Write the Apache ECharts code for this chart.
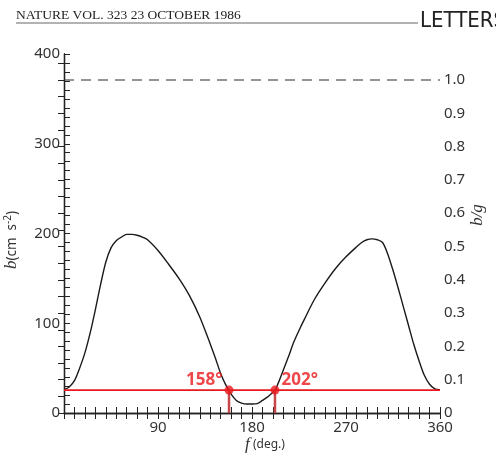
<!DOCTYPE html>
<html lang="en">
<head>
    <meta charset="UTF-8">
    <title>b vs f</title>
    <style>
        html, body { margin: 0; padding: 0; background: #fff; }
        #chart { width: 496px; height: 457px; }
    </style>
</head>
<body>
    <div id="chart"></div>
<script src="https://cdn.jsdelivr.net/npm/echarts@6/dist/echarts.min.js"></script>
<script>
    // curve: f in degrees, b in cm s^-2
    var fDeg = [0, 5, 10, 15, 20, 25, 30, 35, 40, 45, 50, 55, 60, 65, 70, 75, 80, 90,
        100, 110, 120, 130, 140, 145, 150, 155, 158, 160, 165, 170, 175, 180, 185, 190,
        195, 202, 205, 210, 215, 220, 225, 230, 240, 250, 260, 270, 280, 285, 290, 295,
        300, 305, 310, 315, 320, 325, 330, 335, 340, 345, 350, 355, 360];
    var bVal = [26, 29, 36, 50, 67, 89, 115, 143, 168, 184, 192, 196, 199, 199, 198, 196, 193, 181,
        166, 150, 131, 107, 77, 61, 44, 31, 25.5, 21, 14, 11, 10, 10, 10.5, 14,
        18, 25.5, 33, 48, 63, 79, 92, 104, 127, 145, 161, 174, 185, 190, 193, 194,
        193, 190, 177, 159, 139, 118, 97, 76, 58, 42, 32, 27, 26];

    var threshold = 25.5;          // red horizontal line
    var crossAngles = [158, 202];  // where the curve meets it
    var gRef = 371;                // b at which b/g = 1.0 (dashed line)
    var xLabels = [90, 180, 270, 360];
    var leftLabels = [0, 100, 200, 300, 400];
    var rightLabels = ['0', '0.1', '0.2', '0.3', '0.4', '0.5', '0.6', '0.7', '0.8', '0.9', '1.0'];

    var labelFont = 'Noto Sans, sans-serif';
    var ink = '#222';

    var curve = fDeg.map(function (f, i) { return [f, bVal[i]]; });

    var chart = echarts.init(document.getElementById('chart'));

    var axisLine = { show: true, lineStyle: { color: ink, width: 1.3 } };
    // negative length turns the ticks into the plot
    var tick = { show: true, length: -6, lineStyle: { color: ink, width: 1 } };

    function near(v, step) {
        var k = Math.round(v / step);
        return Math.abs(v - k * step) < 1e-6;
    }

    var option = {
        animation: false,
        backgroundColor: '#fff',
        grid: { left: 64, right: 56, top: 54, bottom: 44 },
        xAxis: [
            {
                type: 'value', min: 0, max: 360, interval: 10,
                axisLine: axisLine, axisTick: tick,
                splitLine: { show: false },
                axisLabel: {
                    margin: 7, fontSize: 15, color: '#333', fontFamily: labelFont,
                    formatter: function (v) { return xLabels.indexOf(v) >= 0 ? String(v) : ''; }
                }
            },
            {
                type: 'value', position: 'top', min: 0, max: 360, interval: 10,
                axisLine: axisLine, axisTick: tick,
                splitLine: { show: false },
                axisLabel: { show: false }
            }
        ],
        yAxis: [
            {
                type: 'value', min: 0, max: 400, interval: 10,
                axisLine: axisLine, axisTick: tick,
                splitLine: { show: false },
                axisLabel: {
                    margin: 4, fontSize: 15, color: '#333', fontFamily: labelFont,
                    formatter: function (v) { return leftLabels.indexOf(v) >= 0 ? String(v) : ''; }
                }
            },
            {
                type: 'value', position: 'right', min: 0, max: 400 / gRef, interval: 0.05,
                axisLine: axisLine, axisTick: tick,
                splitLine: { show: false },
                axisLabel: {
                    margin: 4, fontSize: 15, color: '#333', fontFamily: labelFont,
                    showMaxLabel: false,
                    formatter: function (v) {
                        if (!near(v, 0.1)) return '';
                        var k = Math.round(v * 10);
                        return k < rightLabels.length ? rightLabels[k] : '';
                    }
                }
            }
        ],
        series: [
            {
                type: 'line', data: curve, smooth: 0.3, showSymbol: false,
                lineStyle: { color: '#1a1a1a', width: 1.4 }, z: 3
            },
            {
                // dashed b/g = 1 line
                type: 'line', yAxisIndex: 1, data: [[0, 1], [360, 1]], showSymbol: false,
                lineStyle: { color: '#2a2a2a', width: 1.1, type: [10, 7] }
            },
            {
                type: 'line', data: [[0, threshold], [360, threshold]], showSymbol: false,
                lineStyle: { color: '#e8191c', width: 1.6 }, z: 4
            },
            {
                type: 'line', data: [[crossAngles[0], 0], [crossAngles[0], threshold]], showSymbol: false,
                lineStyle: { color: '#c8474a', width: 2.5 }, z: 4
            },
            {
                type: 'line', data: [[crossAngles[1], 0], [crossAngles[1], threshold]], showSymbol: false,
                lineStyle: { color: '#c8474a', width: 2.5 }, z: 4
            },
            {
                type: 'scatter', symbolSize: 9, z: 5,
                itemStyle: { color: '#e8191c' },
                data: crossAngles.map(function (a, i) {
                    return {
                        value: [a, threshold],
                        label: {
                            show: true,
                            formatter: a + '°',
                            position: i === 0 ? 'left' : 'right',
                            distance: 2,
                            offset: [0, -10],
                            color: '#e8191c',
                            fontSize: 17,
                            fontWeight: 'bold',
                            fontFamily: 'Open Sans, sans-serif'
                        }
                    };
                })
            }
        ],
        graphic: [
            {
                type: 'text', left: 16, top: 8,
                style: { text: 'NATURE VOL. 323 23 OCTOBER 1986', fontSize: 13.5,
                    fontFamily: 'Liberation Serif, serif', fill: '#222' }
            },
            {
                type: 'line', shape: { x1: 16, y1: 23, x2: 418, y2: 23 },
                style: { stroke: '#666', lineWidth: 1 }
            },
            {
                type: 'text', left: 420, top: 10,
                style: { text: 'LETTERS', fontSize: 22,
                    fontFamily: 'Liberation Sans Narrow, DejaVu Sans Condensed, sans-serif', fill: '#222' }
            },
            {
                type: 'text', x: 12, y: 240, rotation: Math.PI / 2,
                style: {
                    text: '{i|b}{n|(cm  s}{s|-2}{n|)}',
                    align: 'center', verticalAlign: 'middle',
                    rich: {
                        i: { fontSize: 17, fontStyle: 'italic', fontFamily: 'Liberation Serif, serif', fill: '#333' },
                        n: { fontSize: 13.5, fontFamily: labelFont, fill: '#333' },
                        s: { fontSize: 10, fontFamily: labelFont, fill: '#333', verticalAlign: 'top' }
                    }
                }
            },
            {
                type: 'text', x: 478, y: 215, rotation: Math.PI / 2,
                style: {
                    text: 'b/g', align: 'center', verticalAlign: 'middle',
                    fontSize: 17, fontStyle: 'italic', fontFamily: 'Liberation Serif, serif', fill: '#333'
                }
            },
            {
                type: 'text', x: 265, y: 445,
                style: {
                    text: '{i|f}{n| (deg.)}',
                    align: 'center', verticalAlign: 'middle',
                    rich: {
                        i: { fontSize: 17, fontStyle: 'italic', fontFamily: 'Liberation Serif, serif', fill: '#333' },
                        n: { fontSize: 12, fontFamily: labelFont, fill: '#333' }
                    }
                }
            }
        ]
    };

    chart.setOption(option);
</script>
</body>
</html>
